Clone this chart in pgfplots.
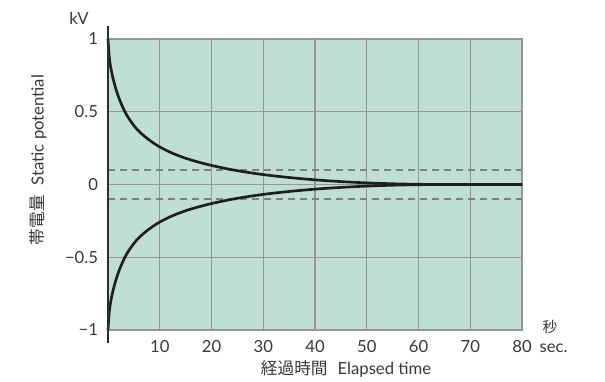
\documentclass[border=0pt]{standalone}
\usepackage{pgfplots}
\usepackage{pgfplotstable}
\pgfplotsset{compat=1.18}
\usepackage{fontspec}
\setmainfont{Lato}
\newfontfamily\jp{Noto Sans CJK JP}
\definecolor{bgc}{RGB}{191,223,212}
\definecolor{gridc}{RGB}{150,150,150}
\definecolor{dashc}{RGB}{128,128,128}
\definecolor{curvec}{RGB}{30,30,30}
\definecolor{axc}{RGB}{45,45,45}
\pgfplotstableread{
t y
0 1.0
0.25 0.875
0.5 0.81
0.75 0.765
1 0.725
1.5 0.66
2 0.605
2.5 0.56
3 0.52
3.5 0.485
4 0.455
5 0.405
6 0.365
7 0.333
8 0.305
9 0.28
10 0.258
12 0.222
14 0.193
16 0.169
18 0.149
20 0.131
23 0.108
26 0.089
30 0.068
35 0.048
40 0.032
45 0.020
50 0.011
55 0.005
60 0.0015
65 0
80 0
}\uppertab
\pgfplotstableread{
t y
0 -1.0
0.25 -0.875
0.5 -0.81
0.75 -0.765
1 -0.725
1.5 -0.66
2 -0.605
2.5 -0.56
3 -0.52
3.5 -0.485
4 -0.455
5 -0.405
6 -0.365
7 -0.333
8 -0.305
9 -0.28
10 -0.258
12 -0.222
14 -0.193
16 -0.169
18 -0.149
20 -0.131
23 -0.108
26 -0.089
30 -0.068
35 -0.048
40 -0.032
45 -0.020
50 -0.011
55 -0.005
60 -0.0015
65 0
80 0
}\lowertab
\begin{document}
\begin{tikzpicture}
\begin{axis}[
  name=ax,
  scale only axis, width=310.5pt, height=218.25pt,
  xmin=0, xmax=80, ymin=-1, ymax=1,
  clip=false,
  axis background/.style={fill=bgc},
  axis line style={gridc, line width=0.9pt},
  xtick={10,20,30,40,50,60,70,80},
  xticklabels={10,20,30,40,50,60,70,80\rlap{\hspace{6pt}sec.}},
  ytick={-1,-0.5,0,0.5,1},
  yticklabels={−1,−0.5,0,0.5,1},
  grid=major,
  major grid style={gridc, line width=0.9pt},
  tick style={draw=none},
  tick label style={font=\fontsize{12.5}{14}\selectfont, text=black!78},
  xticklabel style={yshift=-4pt},
  yticklabel style={xshift=-4pt},
]
\addplot[dashc, line width=1.1pt, dash pattern=on 5.5pt off 3.5pt] coordinates {(0,0.1) (80,0.1)};
\addplot[dashc, line width=1.1pt, dash pattern=on 5.5pt off 3.5pt] coordinates {(0,-0.1) (80,-0.1)};
\addplot[curvec, line width=2pt, smooth, tension=0.5] table[x=t,y=y] {\uppertab};
\addplot[curvec, line width=2pt, smooth, tension=0.5] table[x=t,y=y] {\lowertab};
\draw[axc, line width=1.5pt] (axis cs:0,1.09) -- (axis cs:0,-1.09);
\coordinate (ll) at (rel axis cs:0,0);
\coordinate (ur) at (rel axis cs:1,1);
\node[font=\fontsize{12.5}{14}\selectfont, text=black!78] at ([xshift=-21.75pt,yshift=15.75pt]rel axis cs:0,1) {kV};
\node[font=\jp\fontsize{11}{13}\selectfont, text=black!78] at ([xshift=21pt,yshift=2.25pt]rel axis cs:1,0) {秒};
\node[anchor=base, font=\fontsize{12.5}{14}\selectfont, text=black!78] at ([yshift=-33pt]rel axis cs:0.575,0) {{\jp 経過時間}\hspace{0.6em}Elapsed time};
\node[rotate=90, font=\fontsize{12.5}{14}\selectfont, text=black!78] at ([xshift=-52.5pt]rel axis cs:0,0.584) {{\jp 帯電量}\hspace{0.6em}Static potential};
\end{axis}
\pgfresetboundingbox
\path[use as bounding box] ([xshift=-81pt,yshift=-38.25pt]ll) rectangle ([xshift=62.25pt,yshift=29.25pt]ur);
\end{tikzpicture}
\end{document}
